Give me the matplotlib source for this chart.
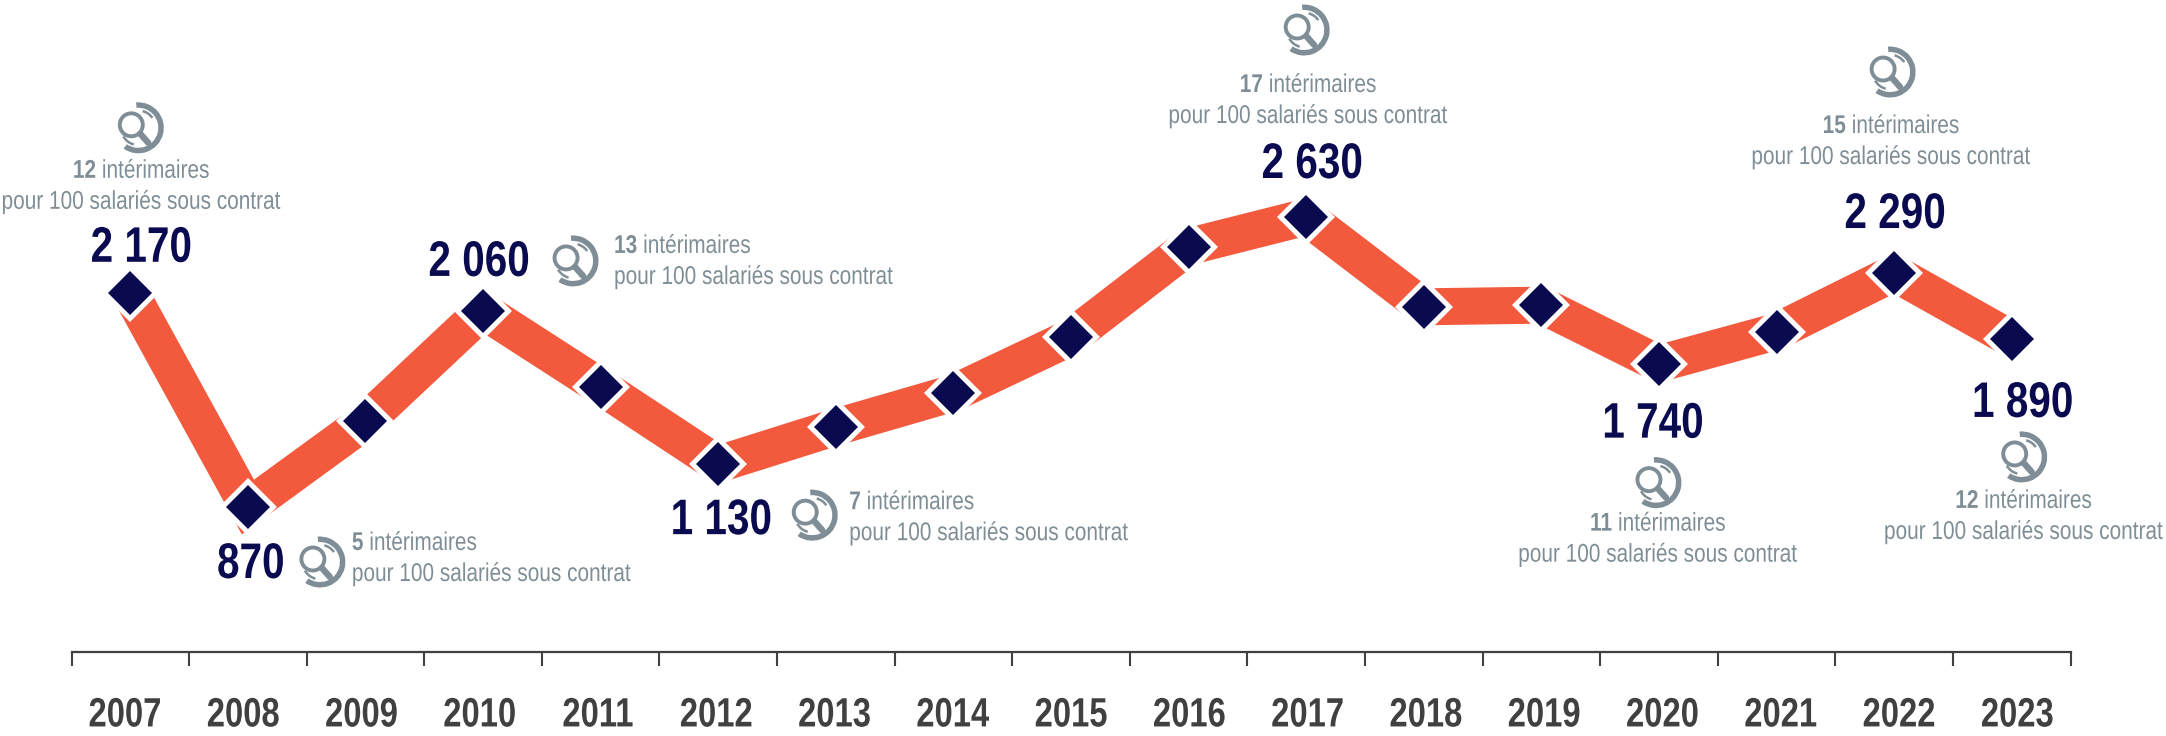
import numpy as np
import matplotlib
matplotlib.use("Agg")
import matplotlib.pyplot as plt
from matplotlib.patches import Wedge, Circle
from matplotlib.lines import Line2D
from matplotlib.patheffects import AbstractPathEffect
from matplotlib.transforms import Affine2D, Bbox

years = ["2007","2008","2009","2010","2011","2012","2013","2014","2015","2016","2017","2018","2019","2020","2021","2022","2023"]
values = [2170,870,1390,2060,1600,1130,1355,1562,1900,2450,2630,2085,2095,1740,1935,2290,1890]
labelled_years = ["2007","2008","2010","2012","2017","2020","2022","2023"]
labelled_rates = [12,5,13,7,17,11,15,12]
line2 = "pour 100 salariés sous contrat"
line1 = "intérimaires"

NAVY="#0A0A50"; ORANGE="#F3593C"; GREY="#7F8E96"; DARK="#404040"
W,H=2166,736
plt.rcParams["font.family"]=["Liberation Sans","DejaVu Sans"]

class Squeeze(AbstractPathEffect):
    """Narrow a text horizontally around a fixed x pixel (no condensed font is installed)."""
    def __init__(self,cx,f):
        super().__init__()
        self.tr=Affine2D().translate(-cx,0).scale(f,1).translate(cx,0)
    def draw_path(self,renderer,gc,tpath,affine,rgbFace=None):
        renderer.draw_path(gc,tpath,affine+self.tr,rgbFace)

def squeeze(t,cx,f):
    t.set_path_effects([Squeeze(cx,f)])
    orig=t.get_window_extent
    def extent(renderer=None,dpi=None):
        b=orig(renderer,dpi)
        return Bbox.from_extents(cx+(b.x0-cx)*f,b.y0,cx+(b.x1-cx)*f,b.y1)
    t.get_window_extent=extent
    return t

fig=plt.figure(figsize=(W/100,H/100),dpi=100)
AX_L,AX_R,AX_B=71.5,2070.5,652
ax=fig.add_axes([AX_L/W,(H-AX_B)/H,(AX_R-AX_L)/W,AX_B/H])
x=np.arange(len(years))
ax.set_xlim(-0.5,len(years)-0.5)
ax.set_ylim(-10,3947)
ax.plot(x,values,color=ORANGE,lw=37*0.72,solid_joinstyle="miter",solid_capstyle="butt",zorder=2)
ax.plot(x,values,ls="none",marker="D",ms=29.5,mfc="white",mec="white",mew=0,zorder=3)
ax.plot(x,values,ls="none",marker="D",ms=22,mfc=NAVY,mec=NAVY,mew=0,zorder=4)
ax.set_yticks([])
for s in ["top","left","right"]:
    ax.spines[s].set_visible(False)
ax.spines["bottom"].set_color(DARK); ax.spines["bottom"].set_linewidth(1.6)
ax.patch.set_alpha(0)
ax.set_xticks(np.arange(-0.5,len(years)),labels=[""]*(len(years)+1))
ax.tick_params(axis="x",which="major",length=10,width=1.5,color=DARK)
# the reference's year labels drift slightly against the category centres
label_pos=x+np.linspace(-0.046,0.047,len(years))
ax.set_xticks(label_pos,labels=years,minor=True)
ax.tick_params(axis="x",which="minor",length=0,pad=32,labelsize=29.5,labelcolor=DARK)
for p,t in zip(label_pos,ax.get_xticklabels(minor=True)):
    t.set_fontweight("bold")
    squeeze(t,ax.transData.transform((p,0))[0],0.80)

ov=fig.add_axes([0,0,1,1],zorder=5)
ov.set_xlim(0,W); ov.set_ylim(H,0); ov.axis("off"); ov.patch.set_alpha(0)
fig.canvas.draw()
rend=fig.canvas.get_renderer()
F_TXT=0.81; F_VAL=0.81

def icon(cx,cy):
    ov.add_patch(Wedge((cx,cy),25.5,265,125,width=5.5,fc=GREY,ec="none"))
    ov.add_patch(Wedge((cx,cy),18.5,285,325,width=2.5,fc=GREY,ec="none"))
    ov.add_patch(Wedge((cx,cy),18.5,105,150,width=2.5,fc=GREY,ec="none"))
    ov.add_patch(Circle((cx-7,cy-3),11.5,fc="none",ec=GREY,lw=2.8))
    ov.add_line(Line2D([cx+2,cx+10],[cy+6,cy+15],color=GREY,lw=4.6,solid_capstyle="round"))

def callout(rate,px,py,ha):
    a=ov.text(0,0,str(rate),fontsize=18.5,fontweight="bold",color=GREY,va="center",ha="right")
    b=ov.text(0,0," "+line1,fontsize=18.5,color=GREY,va="center",ha="left")
    wa=a.get_window_extent(rend).width*F_TXT; wb=b.get_window_extent(rend).width*F_TXT
    left=px-(wa+wb)/2 if ha=="center" else px
    join=left+wa
    a.set_position((join,py)); b.set_position((join,py))
    squeeze(a,join,F_TXT); squeeze(b,join,F_TXT)
    c=ov.text(px,py+31,line2,fontsize=18.5,color=GREY,va="center",ha=ha)
    full=c.get_window_extent(rend).width; w=full*F_TXT
    # anchor on the near edge for the lines that sit close to the figure border
    if ha=="center" and px-full/2<0:
        c.set_ha("left"); c.set_x(px-w/2); px=px-w/2
    elif ha=="center" and px+full/2>W:
        c.set_ha("right"); c.set_x(px+w/2); px=px+w/2
    squeeze(c,px,F_TXT)

# layout per labelled year: value-label offset, icon offset, text offset (px from the point), alignment
layout={
 "2007":((11,-44),(8,-165),(11,-122),"center"),
 "2008":((3,58),(72,55),(104,36),"left"),
 "2010":((-4,-48),(90,-50),(131,-65),"left"),
 "2012":((3,57),(94,51),(131,38),"left"),
 "2017":((6,-52),(-2,-187),(2,-132),"center"),
 "2020":((-6,61),(-3,119),(-1,160),"center"),
 "2022":((1,-58),(-4,-201),(-3,-147),"center"),
 "2023":((11,65),(10,118),(12,162),"center"),
}
for yr,rate in zip(labelled_years,labelled_rates):
    i=years.index(yr); v=values[i]
    px,py=ax.transData.transform((i,v)); py=H-py
    (vx,vy),(ix,iy),(tx,ty),ha=layout[yr]
    t=ov.text(px+vx,py+vy,f"{v:,}".replace(","," "),fontsize=36,fontweight="bold",color=NAVY,ha="center",va="center")
    squeeze(t,px+vx,F_VAL)
    icon(px+ix,py+iy)
    callout(rate,px+tx,py+ty,ha)
fig.savefig("out.png",dpi=100)
